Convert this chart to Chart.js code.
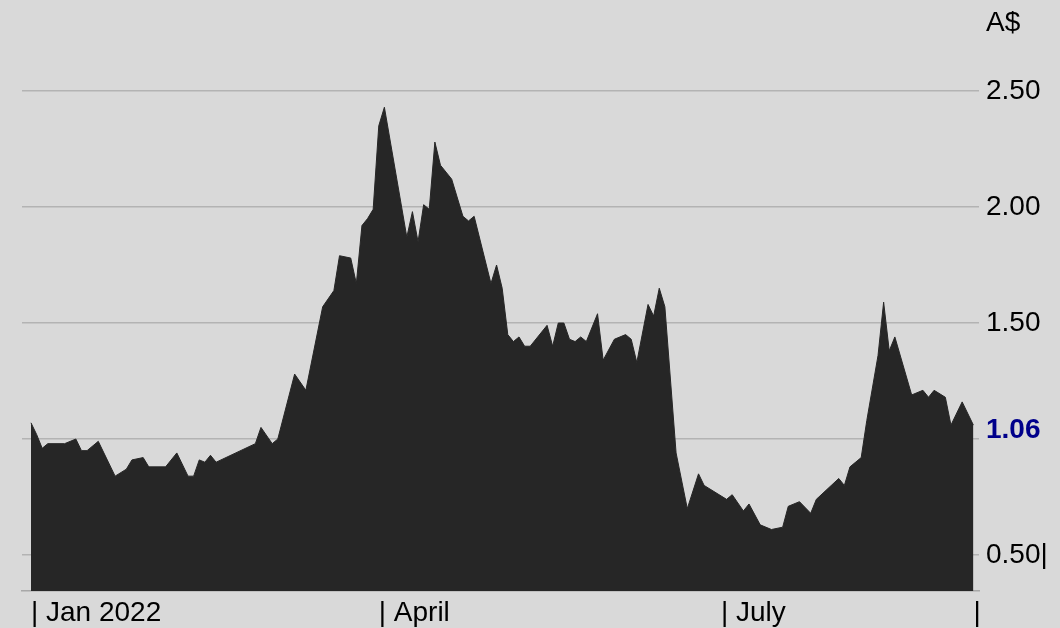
<!DOCTYPE html>
<html>
<head>
<meta charset="utf-8">
<script src="https://cdn.jsdelivr.net/npm/chart.js@4"></script>
<style>
  html, body { margin: 0; padding: 0; background: #d9d9d9; }
  canvas { display: block; }
</style>
</head>
<body>
<canvas id="priceChart" width="1060" height="628"></canvas>
<script>
// trading day since the start of Jan 2022, and closing price in A$
const tradingDay = [0, 1, 2, 3, 6, 8, 9, 10, 12, 15,
  17, 18, 20, 21, 23, 24, 26, 28, 29, 30,
  31, 32, 33, 40, 41, 43, 44, 47, 49, 52,
  54, 55, 57, 58, 59, 60, 61, 62, 63, 67,
  68, 69, 70, 71, 72, 73, 75, 77, 78, 79,
  82, 83, 84, 85, 86, 87, 88, 89, 92, 93,
  94, 95, 96, 97, 98, 99, 101, 102, 104, 106,
  107, 108, 110, 111, 112, 113, 115, 117, 119, 120,
  124, 125, 127, 128, 130, 132, 134, 135, 137, 139,
  140, 144, 145, 146, 148, 149, 151, 152, 153, 154,
  157, 159, 160, 161, 163, 164, 166, 168];
const price = [1.07, 1.02, 0.96, 0.98, 0.98, 1.00, 0.95, 0.95, 0.99, 0.84,
  0.87, 0.91, 0.92, 0.88, 0.88, 0.88, 0.94, 0.84, 0.84, 0.91,
  0.90, 0.93, 0.90, 0.98, 1.05, 0.98, 1.00, 1.28, 1.21, 1.57,
  1.64, 1.79, 1.78, 1.67, 1.92, 1.95, 1.99, 2.35, 2.43, 1.87,
  1.98, 1.85, 2.01, 1.99, 2.28, 2.18, 2.12, 1.96, 1.94, 1.96,
  1.67, 1.75, 1.65, 1.45, 1.42, 1.44, 1.40, 1.40, 1.49, 1.40,
  1.50, 1.50, 1.43, 1.42, 1.44, 1.42, 1.54, 1.34, 1.43, 1.45,
  1.43, 1.33, 1.58, 1.53, 1.65, 1.57, 0.94, 0.70, 0.85, 0.80,
  0.74, 0.76, 0.69, 0.72, 0.63, 0.61, 0.62, 0.71, 0.73, 0.68,
  0.74, 0.83, 0.80, 0.88, 0.92, 1.08, 1.36, 1.59, 1.38, 1.44,
  1.19, 1.21, 1.18, 1.21, 1.18, 1.06, 1.16, 1.06];

const monthTickDays = [0, 62, 123, 168];
const monthTickLabels = ['| Jan 2022', '| April', '| July', '|'];
const priceTicks = [0.5, 1.0, 1.5, 2.0, 2.5];
const priceTickLabels = ['0.50|', '', '1.50', '2.00', '2.50'];

Chart.defaults.font.family = '"Liberation Sans", Arial, sans-serif';
Chart.defaults.font.size = 28;
Chart.defaults.color = '#000';

const lastPrice = price[price.length - 1];

const extras = {
  id: 'extras',
  beforeDraw(chart) {
    const ctx = chart.ctx;
    ctx.save();
    ctx.fillStyle = '#d9d9d9';
    ctx.fillRect(0, 0, chart.width, chart.height);
    ctx.restore();
  },
  afterDraw(chart) {
    const ctx = chart.ctx;
    const x = chart.chartArea.right + 7;
    ctx.save();
    ctx.textAlign = 'left';
    ctx.textBaseline = 'middle';
    ctx.font = '28px "Liberation Sans", Arial, sans-serif';
    ctx.fillStyle = '#000';
    ctx.fillText('A$', x, 23);
    // last close, shown in place of the 1.00 tick
    ctx.font = 'bold 28px "Liberation Sans", Arial, sans-serif';
    ctx.fillStyle = '#00008b';
    ctx.fillText(lastPrice.toFixed(2), x, chart.scales.y.getPixelForValue(lastPrice) + 5);
    ctx.restore();
  }
};

new Chart(document.getElementById('priceChart'), {
  type: 'line',
  data: {
    datasets: [{
      data: tradingDay.map((d, i) => ({ x: d, y: price[i] })),
      fill: 'start',
      backgroundColor: '#262626',
      borderColor: '#262626',
      borderWidth: 1,
      pointRadius: 0,
      tension: 0
    }]
  },
  options: {
    responsive: false,
    animation: false,
    devicePixelRatio: 1,
    layout: { padding: { left: 22, top: 91, right: 0, bottom: 0 } },
    plugins: { legend: { display: false }, tooltip: { enabled: false } },
    scales: {
      x: {
        type: 'linear',
        min: -1.6,
        max: 169,
        z: 1,
        afterBuildTicks: s => { s.ticks = monthTickDays.map(v => ({ value: v })); },
        afterFit: s => { s.height = 37; },
        grid: { display: false, drawTicks: false },
        border: { display: true, color: '#a8a8a8', width: 1.5 },
        ticks: {
          align: 'start',
          maxRotation: 0,
          autoSkip: false,
          padding: 5,
          callback: v => monthTickLabels[monthTickDays.indexOf(v)]
        }
      },
      y: {
        position: 'right',
        min: 0.345,
        max: 2.5,
        afterBuildTicks: s => { s.ticks = priceTicks.map(v => ({ value: v })); },
        afterFit: s => { s.width = 81; },
        grid: { color: '#b3b3b3', lineWidth: 1.5, drawTicks: false },
        border: { display: false },
        ticks: {
          padding: 7,
          callback: v => priceTickLabels[priceTicks.indexOf(v)]
        }
      }
    }
  },
  plugins: [extras]
});
</script>
</body>
</html>
